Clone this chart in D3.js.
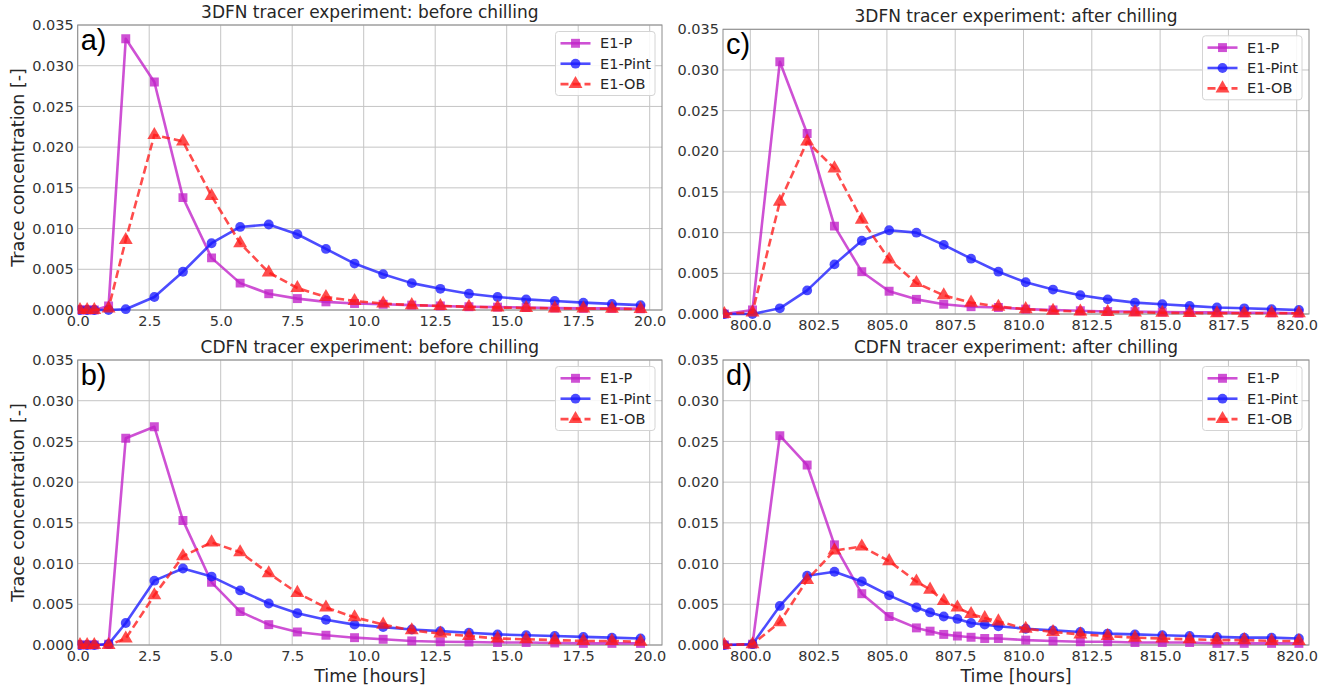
<!DOCTYPE html>
<html>
<head>
<meta charset="utf-8">
<script src="https://cdn.jsdelivr.net/npm/d3@7"></script>
<style>
  html, body { margin: 0; padding: 0; background: #fff; }
  svg { display: block; }
</style>
</head>
<body>
<svg id="chart" width="1326" height="689"></svg>
<script>
// ---------- data ----------
const seriesNames = ["E1-P", "E1-Pint", "E1-OB"];

const timeA = [0.08, 0.33, 0.58, 1.08, 1.68, 2.68, 3.68, 4.68, 5.68, 6.68, 7.68, 8.68, 9.68, 10.68, 11.68, 12.68, 13.68, 14.68, 15.68, 16.68, 17.68, 18.68, 19.68];
const pA    = [0, 0, 0, 0.0005, 0.0333, 0.0280, 0.0138, 0.0064, 0.0033, 0.0020, 0.0014, 0.0010, 0.0008, 0.0007, 0.0006, 0.0005, 0.0004, 0.00035, 0.0003, 0.00025, 0.0002, 0.0002, 0.00015];
const pintA = [0, 0, 0, 0, 0.0001, 0.0016, 0.0047, 0.0082, 0.0102, 0.0105, 0.0093, 0.0075, 0.0057, 0.0044, 0.0033, 0.0026, 0.0020, 0.0016, 0.0013, 0.0011, 0.0009, 0.00075, 0.0006];
const obA   = [0, 0, 0, 0.0002, 0.0086, 0.0215, 0.0207, 0.0140, 0.0082, 0.0046, 0.0027, 0.0016, 0.0011, 0.0008, 0.0006, 0.0005, 0.0004, 0.0003, 0.00025, 0.0002, 0.00018, 0.00015, 0.00012];

const timeB = [0.08, 0.33, 0.58, 1.08, 1.68, 2.68, 3.68, 4.68, 5.68, 6.68, 7.68, 8.68, 9.68, 10.68, 11.68, 12.68, 13.68, 14.68, 15.68, 16.68, 17.68, 18.68, 19.68];
const pB    = [0, 0, 0, 0.0001, 0.0254, 0.0268, 0.0153, 0.0077, 0.0041, 0.0025, 0.0016, 0.0012, 0.0009, 0.0007, 0.0005, 0.0004, 0.00037, 0.0003, 0.0003, 0.00025, 0.0002, 0.0002, 0.0002];
const pintB = [0, 0, 0, 0.0001, 0.0027, 0.0079, 0.0094, 0.0084, 0.0067, 0.0051, 0.0039, 0.0031, 0.0025, 0.0022, 0.0019, 0.0017, 0.0015, 0.0013, 0.0012, 0.0011, 0.0010, 0.0009, 0.0008];
const obB   = [0, 0, 0, 0, 0.0008, 0.0061, 0.0109, 0.0126, 0.0114, 0.0088, 0.0064, 0.0046, 0.0034, 0.0025, 0.0018, 0.0014, 0.0011, 0.0008, 0.0007, 0.0006, 0.0005, 0.0005, 0.0004];

const timeC = [799.05, 800.08, 801.08, 802.08, 803.08, 804.08, 805.08, 806.08, 807.08, 808.08, 809.08, 810.08, 811.08, 812.08, 813.08, 814.08, 815.08, 816.08, 817.08, 818.08, 819.08, 820.08];
const pC    = [0, 0.0005, 0.0310, 0.0222, 0.0108, 0.0052, 0.0028, 0.0018, 0.0012, 0.0009, 0.0008, 0.0006, 0.0005, 0.0004, 0.0003, 0.0003, 0.00025, 0.0002, 0.0002, 0.00015, 0.00015, 0.0001];
const pintC = [0, 0, 0.0007, 0.0029, 0.0061, 0.0090, 0.0103, 0.0100, 0.0085, 0.0068, 0.0052, 0.0039, 0.0030, 0.0023, 0.0018, 0.0014, 0.0012, 0.0010, 0.0008, 0.0007, 0.0006, 0.0005];
const obC   = [0, 0.0002, 0.0138, 0.0212, 0.0179, 0.0116, 0.0067, 0.0038, 0.0023, 0.0014, 0.0009, 0.0006, 0.0004, 0.0003, 0.00025, 0.0002, 0.00015, 0.00012, 0.0001, 0.0001, 0.0001, 0.0001];

const timeD = [799.05, 800.08, 801.08, 802.08, 803.08, 804.08, 805.08, 806.08, 806.58, 807.08, 807.58, 808.08, 808.58, 809.08, 810.08, 811.08, 812.08, 813.08, 814.08, 815.08, 816.08, 817.08, 818.08, 819.08, 820.08];
const pD    = [0, 0.0001, 0.0257, 0.0221, 0.0123, 0.0063, 0.0035, 0.0021, 0.0017, 0.0013, 0.0011, 0.00095, 0.0008, 0.0008, 0.0006, 0.0005, 0.0004, 0.0004, 0.0003, 0.0003, 0.0003, 0.0002, 0.0002, 0.0002, 0.0002];
const pintD = [0, 0.0001, 0.0048, 0.0085, 0.0090, 0.0078, 0.0061, 0.0046, 0.0040, 0.0035, 0.0032, 0.0027, 0.0025, 0.0023, 0.0020, 0.0018, 0.0016, 0.0014, 0.0013, 0.0012, 0.0011, 0.0010, 0.0009, 0.0009, 0.0008];
const obD   = [0, 0.0001, 0.0028, 0.0080, 0.0116, 0.0121, 0.0103, 0.0078, 0.0068, 0.0054, 0.0046, 0.0038, 0.0033, 0.0029, 0.0020, 0.0016, 0.0013, 0.0011, 0.0009, 0.0008, 0.0007, 0.0006, 0.0006, 0.0005, 0.0005];

const xTicksBefore = [0, 2.5, 5, 7.5, 10, 12.5, 15, 17.5, 20];
const xTicksAfter  = [800, 802.5, 805, 807.5, 810, 812.5, 815, 817.5, 820];
const yTicks = [0, 0.005, 0.01, 0.015, 0.02, 0.025, 0.03, 0.035];

// ---------- styling ----------
const colors = ["#c020c8", "#1a1aff", "#ff1a1a"];
const shapes = [d3.symbolSquare, d3.symbolCircle, d3.symbolTriangle];
const symSizes = [80, 76, 84];
const dashes = [null, null, "8,4"];
const fontMain = "'DejaVu Sans', sans-serif";

const panels = [
  { letter: "a)", title: "3DFN tracer experiment: before chilling", t: timeA, s: [pA, pintA, obA],
    xd: [0, 20.43], xt: xTicksBefore, left: 77.7, right: 662, top: 25, bottom: 310, ylab: true, xlab: false },
  { letter: "b)", title: "CDFN tracer experiment: before chilling", t: timeB, s: [pB, pintB, obB],
    xd: [0, 20.43], xt: xTicksBefore, left: 77.7, right: 662, top: 360, bottom: 645, ylab: true, xlab: true },
  { letter: "c)", title: "3DFN tracer experiment: after chilling", t: timeC, s: [pC, pintC, obC],
    xd: [799.0, 820.45], xt: xTicksAfter, left: 723, right: 1309, top: 29.3, bottom: 314, ylab: false, xlab: false },
  { letter: "d)", title: "CDFN tracer experiment: after chilling", t: timeD, s: [pD, pintD, obD],
    xd: [799.0, 820.45], xt: xTicksAfter, left: 723, right: 1309, top: 360, bottom: 645, ylab: false, xlab: true }
];

const svg = d3.select("#chart");

panels.forEach((p, pi) => {
  const x = d3.scaleLinear().domain(p.xd).range([p.left, p.right]);
  const y = d3.scaleLinear().domain([0, 0.035]).range([p.bottom, p.top]);
  const g = svg.append("g");
  const clipId = "clip" + pi;
  svg.append("clipPath").attr("id", clipId).append("rect")
    .attr("x", p.left).attr("y", p.top - 8).attr("width", p.right - p.left).attr("height", p.bottom - p.top + 16);

  // grid
  g.append("g").selectAll("line").data(p.xt).join("line")
    .attr("x1", d => x(d)).attr("x2", d => x(d)).attr("y1", p.top).attr("y2", p.bottom)
    .attr("stroke", "#c4c4c4").attr("stroke-width", 1);
  g.append("g").selectAll("line").data(yTicks).join("line")
    .attr("x1", p.left).attr("x2", p.right).attr("y1", d => y(d)).attr("y2", d => y(d))
    .attr("stroke", "#c4c4c4").attr("stroke-width", 1);

  // axes (labels only)
  const xAxis = d3.axisBottom(x).tickValues(p.xt).tickFormat(d3.format(".1f")).tickSize(0).tickPadding(6);
  const gx = g.append("g").attr("transform", `translate(0,${p.bottom})`).call(xAxis);
  gx.select(".domain").remove();
  gx.selectAll("text").attr("font-family", fontMain).attr("font-size", "14.5px").attr("fill", "#333");

  const yAxis = d3.axisLeft(y).tickValues(yTicks).tickFormat(d3.format(".3f")).tickSize(0).tickPadding(4);
  const gy = g.append("g").attr("transform", `translate(${p.left},0)`).call(yAxis);
  gy.select(".domain").remove();
  gy.selectAll("text").attr("font-family", fontMain).attr("font-size", "14.5px").attr("fill", "#333");

  // frame
  g.append("rect").attr("x", p.left).attr("y", p.top).attr("width", p.right - p.left).attr("height", p.bottom - p.top)
    .attr("fill", "none").attr("stroke", "#8c8c8c").attr("stroke-width", 1);

  // series
  const plot = g.append("g").attr("clip-path", `url(#${clipId})`);
  p.s.forEach((vals, si) => {
    const pts = p.t.map((t, i) => [t, vals[i]]);
    const line = d3.line().x(d => x(d[0])).y(d => y(d[1]));
    plot.append("path").attr("d", line(pts)).attr("fill", "none")
      .attr("stroke", colors[si]).attr("stroke-opacity", 0.78).attr("stroke-width", 2.6)
      .attr("stroke-dasharray", dashes[si]).attr("stroke-linejoin", "round");
    plot.append("g").selectAll("path").data(pts).join("path")
      .attr("d", d3.symbol().type(shapes[si]).size(symSizes[si]))
      .attr("transform", d => `translate(${x(d[0])},${y(d[1])})`)
      .attr("fill", colors[si]).attr("fill-opacity", 0.78);
  });

  // title
  g.append("text").attr("x", (p.left + p.right) / 2).attr("y", p.top - 7)
    .attr("text-anchor", "middle").attr("font-family", fontMain).attr("font-size", "17px").attr("fill", "#262626")
    .text(p.title);

  // panel letter
  g.append("text").attr("x", p.left + 3).attr("y", p.top + 25)
    .attr("font-family", "'Liberation Sans', Arial, sans-serif").attr("font-size", "29px").attr("fill", "#000")
    .text(p.letter);

  // legend
  const lx = p.right - 106.5, ly = p.top + 6.5, lw = 99.5, lh = 64;
  const lg = g.append("g");
  lg.append("rect").attr("x", lx).attr("y", ly).attr("width", lw).attr("height", lh)
    .attr("rx", 3).attr("fill", "#fff").attr("fill-opacity", 0.85).attr("stroke", "#d4d4d4").attr("stroke-width", 1);
  seriesNames.forEach((nm, si) => {
    const yy = ly + 11.8 + si * 20.4;
    lg.append("line").attr("x1", lx + 5).attr("x2", lx + 35).attr("y1", yy).attr("y2", yy)
      .attr("stroke", colors[si]).attr("stroke-opacity", 0.78).attr("stroke-width", 2.6)
      .attr("stroke-dasharray", dashes[si]);
    lg.append("path").attr("d", d3.symbol().type(shapes[si]).size(symSizes[si])())
      .attr("transform", `translate(${lx + 20},${yy})`).attr("fill", colors[si]).attr("fill-opacity", 0.78);
    lg.append("text").attr("x", lx + 44.5).attr("y", yy + 5).attr("font-family", fontMain)
      .attr("font-size", "14.5px").attr("fill", "#262626").text(nm);
  });

  if (p.xlab) {
    g.append("text").attr("x", (p.left + p.right) / 2).attr("y", 682)
      .attr("text-anchor", "middle").attr("font-family", fontMain).attr("font-size", "17.5px").attr("fill", "#262626")
      .text("Time [hours]");
  }
  if (p.ylab) {
    g.append("text").attr("transform", `translate(24,${(p.top + p.bottom) / 2}) rotate(-90)`)
      .attr("text-anchor", "middle").attr("font-family", fontMain).attr("font-size", "17.5px").attr("fill", "#262626")
      .text("Trace concentration [-]");
  }
});
</script>
</body>
</html>
